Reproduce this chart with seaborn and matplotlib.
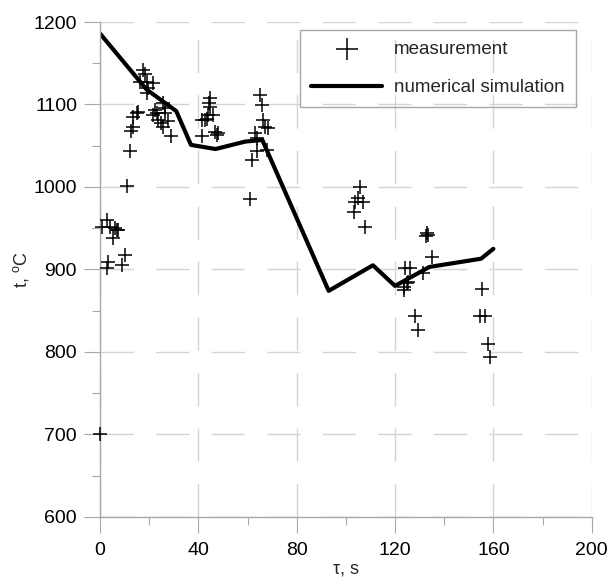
import matplotlib
matplotlib.use('Agg')
import matplotlib.pyplot as plt
import seaborn as sns
from matplotlib.ticker import MultipleLocator

meas_t = [0, 0.8, 2.8, 4, 6, 7, 5.3, 7.5, 3.3, 3, 9, 10, 11, 12, 12.5, 13.5,
          15, 15.5, 13.5, 17.5, 18.3, 16.3, 19, 21.5, 19.5, 19, 22.4, 23, 21.5,
          25.6, 26.4, 23.6, 25, 25.6, 27.6, 29, 26.4,
          41.5, 42.7, 43.5, 44, 44.7, 44.3, 44.7, 46, 41.5, 46.7, 47.5, 48,
          61, 61.8, 63, 63.8, 64, 65, 65.8, 66.3, 67, 68.3, 68,
          105.7, 104.9, 106.9, 103.7, 103.3, 107.7,
          133, 133.4, 132.5, 135, 124, 126, 125.2, 123.6, 123.6, 131.3, 128.3,
          129.4, 124.7,
          155.4, 154.6, 156.5, 157.8, 158.6]
meas_T = [700, 952, 960, 952, 950, 948, 938, 948, 909, 902, 905, 918, 1001, 1044,
          1068, 1073, 1090, 1091, 1085, 1142, 1137, 1127, 1127, 1126, 1120, 1114,
          1093, 1090, 1087, 1102, 1096, 1081, 1078, 1073, 1080, 1062, 1090,
          1081, 1081, 1083, 1087, 1108, 1102, 1097, 1087, 1062, 1067, 1063, 1065,
          985, 1033, 1065, 1059, 1043, 1111, 1099, 1081, 1073, 1071, 1045,
          1000, 986, 982, 982, 970, 952,
          944, 942, 940, 915, 902, 902, 885, 879, 875, 896, 843, 826, 884,
          876, 844, 844, 810, 794]

# simulation curve
sim_t = [0, 19, 31, 37, 47, 59, 66, 93, 111, 120, 134, 155, 160]
sim_T = [1186, 1118, 1092, 1051, 1046, 1055, 1057, 874, 905, 880, 903, 913, 925]

sns.set_theme(style='white')
plt.rcParams['font.family'] = ['Liberation Sans', 'DejaVu Sans']
plt.rcParams['mathtext.default'] = 'regular'

fig = plt.figure(figsize=(6.1, 5.8), dpi=100)
ax = fig.add_axes([0.164, 0.109, 0.806, 0.853])

sns.scatterplot(x=meas_t, y=meas_T, marker='+', s=100, color='black',
                linewidth=1.1, ax=ax, label='measurement', zorder=3, clip_on=False)
sns.lineplot(x=sim_t, y=sim_T, sort=False, color='black', linewidth=3,
             ax=ax, label='numerical simulation', zorder=2)

ax.set_xlim(0, 200)
ax.set_ylim(600, 1200)
ax.xaxis.set_major_locator(MultipleLocator(40))
ax.xaxis.set_minor_locator(MultipleLocator(20))
ax.yaxis.set_major_locator(MultipleLocator(100))
ax.yaxis.set_minor_locator(MultipleLocator(50))

ax.grid(which='major', color='#d4d4d4', linestyle=(0, (24, 16)), linewidth=1)
ax.set_axisbelow(True)

sns.despine(ax=ax)
for side in ['left', 'bottom']:
    ax.spines[side].set_color('#a8a8a8')
    ax.spines[side].set_linewidth(1)

ax.tick_params(which='major', direction='out', length=11.5, width=0.8,
               color='#a8a8a8', labelsize=14, labelcolor='black')
ax.tick_params(which='minor', direction='out', length=5.8, width=0.8,
               color='#a8a8a8')
ax.tick_params(axis='x', which='major', pad=7)
ax.tick_params(axis='y', which='major', pad=5)
ax.tick_params(bottom=True, left=True, which='both')

ax.set_xlabel('τ, s', fontsize=13, labelpad=1)
ax.set_ylabel('t, $^{o}$C', fontsize=13, labelpad=2)

leg = ax.legend(loc='upper left', bbox_to_anchor=(0.4918, 0.9483),
                bbox_transform=fig.transFigure, borderaxespad=0,
                fontsize=13.5, frameon=True, fancybox=False, facecolor='none',
                framealpha=1, edgecolor='#a8a8a8', markerscale=1.6,
                handlelength=3.8, handletextpad=0.6, borderpad=0.6,
                labelspacing=1.1)
leg.get_frame().set_linewidth(1)

fig.savefig('out.png', dpi=100)
